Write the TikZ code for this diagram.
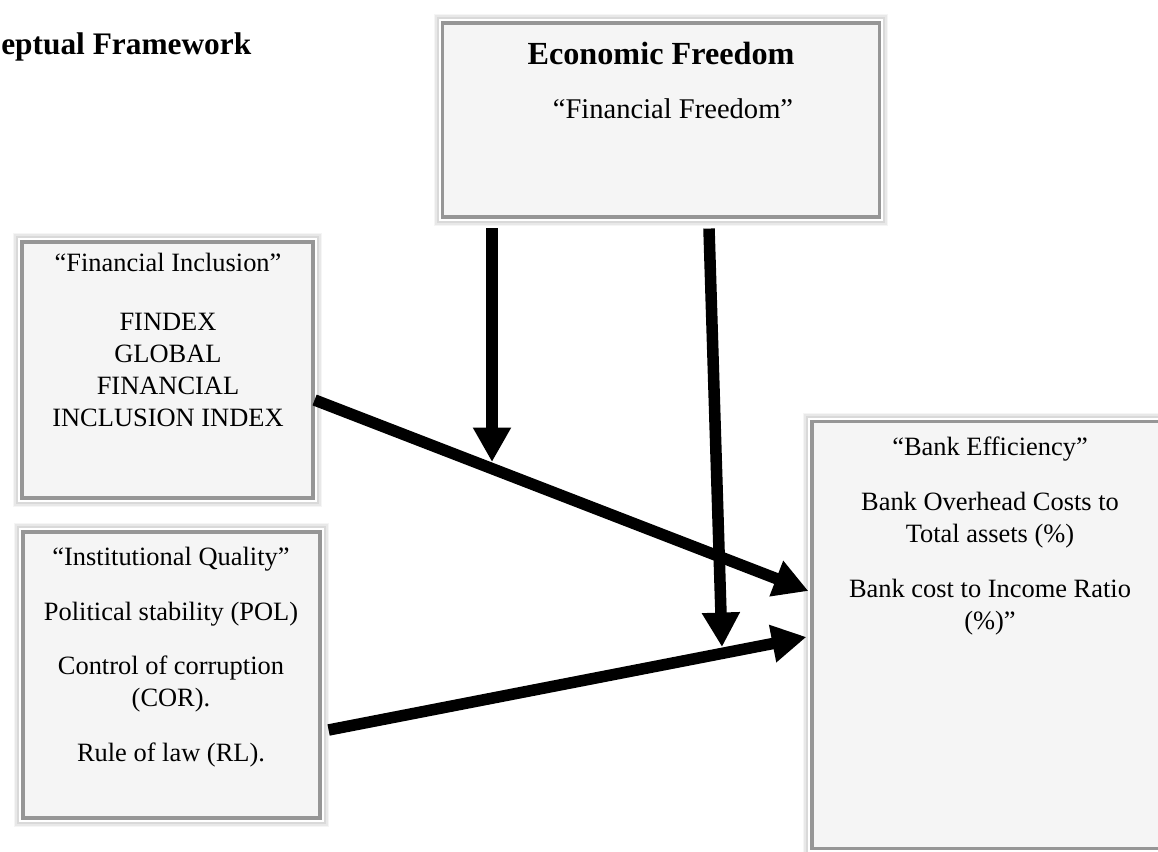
\documentclass[tikz,border=0pt]{standalone}
\usepackage{fontspec}
\setmainfont{Liberation Serif}
\usetikzlibrary{calc, arrows.meta}
\definecolor{panelfill}{HTML}{F5F5F5}
\definecolor{rimgray}{HTML}{969696}

\begin{document}
\begin{tikzpicture}[x=0.025cm, y=-0.025cm,
  panel/.style={rectangle, inner sep=0pt, fill=panelfill, draw=rimgray, line width=2.2pt,
    preaction={draw=gray!8, line width=13pt},
    preaction={draw=gray!18, line width=11pt},
    preaction={draw=gray!30, line width=9pt},
    preaction={draw=white, line width=6pt}},
  boxtext/.style={anchor=north, inner sep=0pt, align=center,
    font=\fontsize{18.8}{22.8}\selectfont},
  flow/.style={line width=8.2pt, -{Triangle[width=25.5pt, length=24.5pt]}}]
  % Page
  \useasboundingbox (0,0) rectangle (1158,852);
  \clip (0,0) rectangle (1158,852);
  % Titre (coupe)
  \node[anchor=north west, inner sep=0pt, font=\bfseries\fontsize{22.3}{26}\selectfont] (title) at (1,32) {eptual Framework};
  % Boites
  \node[panel, minimum width=10.9cm, minimum height=4.85cm] (ef) at (661,120) {};
  \node[panel, minimum width=7.275cm, minimum height=6.4cm] (fi) at (167.5,370) {};
  \node[panel, minimum width=7.425cm, minimum height=7.15cm] (iq) at (171.5,675) {};
  \node[panel, minimum width=9.075cm, minimum height=10.65cm] (be) at (993.5,635) {};
  % Textes
  \node[anchor=north, inner sep=0pt, font=\bfseries\fontsize{22.9}{27}\selectfont] (eftitle) at (661,42) {Economic Freedom};
  \node[anchor=north, inner sep=0pt, font=\fontsize{20.3}{24}\selectfont] (efsub) at (673,98) {“Financial Freedom”};
  \node[boxtext] (fitxt) at (168,253) {“Financial Inclusion”\\[19pt]
    FINDEX\\ GLOBAL\\ FINANCIAL\\ INCLUSION INDEX};
  \node[boxtext] (iqtxt) at (171,547) {“Institutional Quality”\\[16pt]
    Political stability (POL)\\[16pt]
    Control of corruption\\ (COR).\\[16pt]
    Rule of law (RL).};
  \node[boxtext] (betxt) at (990,437) {“Bank Efficiency”\\[16pt]
    Bank Overhead Costs to\\ Total assets (\%)\\[16pt]
    Bank cost to Income Ratio\\ (\%)”};
  % Fleches
  \coordinate (modA) at (492,462);
  \coordinate (modB) at (722,647);
  \draw[flow] ($(fi.east)+(0,30)$) -- ($(be.west)+(-2,-44)$);
  \draw[flow] ($(iq.east)+(7,55)$) -- ($(be.west)+(-4,2)$);
  \draw[flow, shorten <=7pt] (ef.south -| modA) -- (modA);
  \draw[flow] ($(ef.south)+(48,10)$) -- (modB);
\end{tikzpicture}
\end{document}
